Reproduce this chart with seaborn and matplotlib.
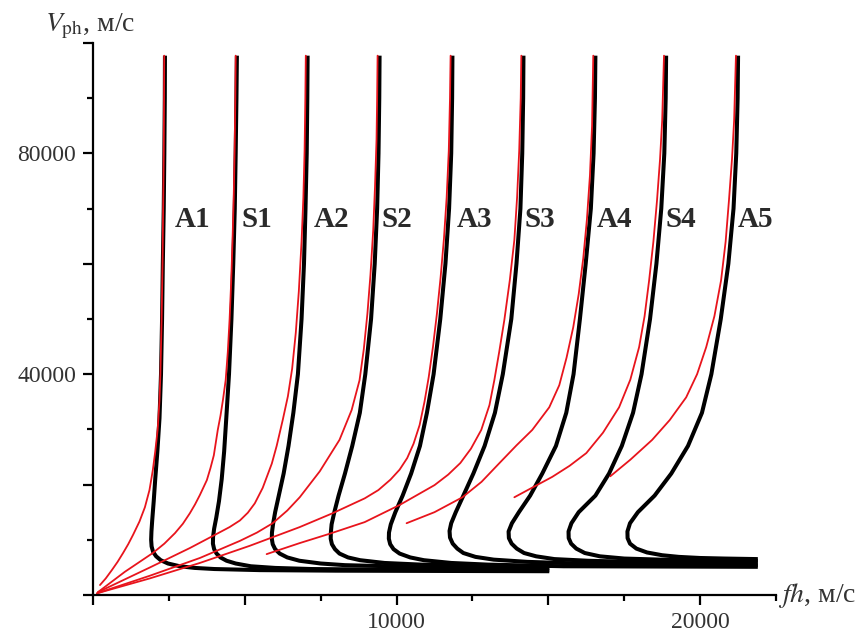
import matplotlib
matplotlib.use("Agg")
import matplotlib.pyplot as plt
from matplotlib.ticker import MultipleLocator
import seaborn as sns

# --- дисперсионные кривые (чёрные): fh [м/с] и Vph [м/с]
A1_fh = [2370, 2365, 2350, 2330, 2300, 2275, 2240, 2190, 2120, 2050, 2000, 1950, 1925, 1915, 1930, 1980, 2080, 2230, 2470, 2860, 3350, 4000, 5500, 8000, 15030]
A1_v = [97700, 90000, 80000, 70000, 60000, 50000, 40000, 32000, 26000, 21000, 17000, 13500, 11500, 10000, 8800, 7800, 7000, 6300, 5700, 5200, 4900, 4700, 4500, 4400, 4300]
S1_fh = [4740, 4725, 4700, 4670, 4620, 4560, 4480, 4390, 4320, 4240, 4150, 4060, 3990, 3955, 3950, 3990, 4070, 4200, 4400, 4700, 5200, 6000, 7200, 9500, 15030]
S1_v = [97700, 90000, 80000, 70000, 60000, 50000, 40000, 32000, 26000, 21000, 17000, 14000, 12000, 10500, 9300, 8300, 7500, 6800, 6200, 5700, 5200, 4900, 4700, 4600, 4500]
A2_fh = [7070, 7060, 7040, 7000, 6950, 6870, 6750, 6600, 6440, 6280, 6120, 6000, 5930, 5895, 5890, 5920, 6000, 6150, 6400, 6800, 7500, 8300, 10500, 15030]
A2_v = [97700, 90000, 80000, 70000, 60000, 50000, 40000, 33000, 27000, 22000, 18000, 15000, 12800, 11300, 10200, 9200, 8300, 7500, 6800, 6200, 5700, 5400, 5100, 4900]
S2_fh = [9440, 9430, 9405, 9360, 9280, 9160, 8970, 8790, 8540, 8300, 8090, 7950, 7860, 7835, 7830, 7870, 7970, 8120, 8400, 8800, 9600, 10800, 12500, 15030]
S2_v = [97700, 90000, 80000, 70000, 60000, 50000, 40000, 33000, 27000, 22000, 18000, 15000, 12800, 11300, 10200, 9200, 8300, 7500, 6800, 6300, 5800, 5500, 5300, 5200]
A3_fh = [11840, 11830, 11800, 11730, 11610, 11440, 11220, 11000, 10770, 10480, 10200, 9960, 9810, 9750, 9745, 9790, 9900, 10100, 10450, 10900, 11800, 13000, 15500, 21900]
A3_v = [97700, 90000, 80000, 70000, 60000, 50000, 40000, 33000, 27000, 22000, 18000, 15000, 12800, 11300, 10200, 9200, 8300, 7500, 6800, 6300, 5800, 5500, 5200, 5100]
S3_fh = [14180, 14170, 14140, 14080, 13950, 13780, 13500, 13240, 12900, 12530, 12200, 11950, 11800, 11745, 11760, 11850, 12000, 12200, 12600, 13200, 14300, 16000, 18500, 21900]
S3_v = [97700, 90000, 80000, 70000, 60000, 50000, 40000, 33000, 27000, 22000, 18000, 15000, 13000, 11600, 10400, 9300, 8400, 7600, 6900, 6400, 6000, 5700, 5500, 5400]
A4_fh = [16550, 16535, 16490, 16400, 16230, 16040, 15830, 15590, 15250, 14800, 14400, 14030, 13800, 13690, 13700, 13790, 13960, 14200, 14600, 15200, 16300, 17800, 19500, 21900]
A4_v = [97700, 90000, 80000, 70000, 60000, 50000, 40000, 33000, 27000, 22000, 18000, 15000, 13000, 11500, 10300, 9300, 8400, 7600, 7000, 6500, 6200, 6000, 5900, 5800]
S4_fh = [18880, 18865, 18820, 18720, 18560, 18350, 18070, 17790, 17420, 17000, 16550, 16000, 15760, 15665, 15670, 15750, 15920, 16200, 16700, 17500, 18700, 20000, 21900]
S4_v = [97700, 90000, 80000, 70000, 60000, 50000, 40000, 33000, 27000, 22000, 18000, 15000, 13000, 11500, 10300, 9300, 8400, 7600, 7000, 6600, 6400, 6300, 6200]
A5_fh = [21250, 21235, 21190, 21100, 20930, 20680, 20370, 20060, 19600, 19050, 18500, 17950, 17690, 17605, 17610, 17690, 17900, 18250, 18750, 19300, 20000, 20800, 21900]
A5_v = [97700, 90000, 80000, 70000, 60000, 50000, 40000, 33000, 27000, 22000, 18000, 15000, 13000, 11500, 10300, 9300, 8400, 7700, 7200, 6900, 6700, 6600, 6500]

# --- приближённые кривые (красные)
A1r_fh = [230, 420, 620, 810, 990, 1160, 1320, 1530, 1710, 1860, 1970, 2050, 2130, 2190, 2220, 2260, 2290, 2310, 2330, 2340, 2345]
A1r_v = [1800, 3000, 4500, 6000, 7600, 9200, 10900, 13300, 15900, 19000, 22600, 26000, 30000, 35300, 40000, 50000, 60000, 70000, 80000, 90000, 97700]
S1r_fh = [160, 1050, 1970, 2350, 2700, 2960, 3190, 3360, 3520, 3750, 3870, 3980, 4110, 4200, 4280, 4370, 4440, 4500, 4550, 4595, 4635, 4665, 4688, 4700]
S1r_v = [500, 4200, 7600, 9300, 11200, 12900, 14800, 16400, 18100, 20800, 23000, 25300, 29900, 32500, 35300, 38900, 44000, 50000, 56500, 64000, 72000, 80500, 90000, 97700]
A2r_fh = [160, 1880, 3190, 3950, 4500, 4840, 5100, 5330, 5590, 5890, 6050, 6250, 6420, 6560, 6680, 6780, 6870, 6930, 6970, 6995, 7010]
A2r_v = [500, 5000, 8500, 10700, 12300, 13500, 14900, 16600, 19400, 23800, 27000, 31700, 36000, 41000, 47500, 55000, 64000, 72000, 80500, 90000, 97700]
S2r_fh = [130, 1880, 3520, 4840, 5400, 5920, 6400, 6810, 7470, 8120, 8520, 8780, 8920, 9040, 9140, 9230, 9290, 9340, 9360, 9375]
S2r_v = [300, 3500, 6700, 9800, 11300, 13000, 15300, 17700, 22400, 28100, 33500, 38900, 44500, 51000, 58000, 66000, 74000, 82500, 90000, 97700]
A3r_fh = [130, 1870, 3520, 5160, 6810, 7890, 8950, 9400, 9800, 10100, 10350, 10560, 10760, 10920, 11060, 11200, 11330, 11450, 11560, 11650, 11720, 11760, 11780]
A3r_v = [300, 3000, 5800, 8900, 12300, 14800, 17500, 19000, 20900, 22700, 24800, 27400, 30800, 35000, 39500, 45000, 51000, 57500, 64500, 72000, 80500, 90000, 97700]
S3r_fh = [5720, 6810, 7800, 8950, 10100, 11250, 11700, 12100, 12450, 12790, 13060, 13220, 13380, 13550, 13730, 13880, 13970, 14040, 14090, 14110]
S3r_v = [7400, 9400, 11100, 13200, 16300, 19900, 21800, 23900, 26500, 29900, 34400, 38900, 44000, 49800, 57000, 64300, 72000, 80500, 90000, 97700]
A4r_fh = [10330, 11250, 12170, 12800, 13390, 13950, 14470, 15030, 15360, 15600, 15820, 16000, 16150, 16270, 16370, 16440, 16480]
A4r_v = [13000, 15000, 17700, 20500, 23900, 27100, 29900, 34000, 38000, 43000, 48500, 54500, 61000, 68000, 76000, 85000, 97700]
S4r_fh = [13880, 15130, 15700, 16250, 16800, 17330, 17700, 17990, 18170, 18320, 18460, 18580, 18680, 18750, 18810]
S4r_v = [17700, 21400, 23400, 25700, 29400, 34000, 39000, 44900, 50500, 57000, 64000, 71500, 79000, 86000, 97700]
A5r_fh = [17040, 17700, 18420, 19000, 19540, 19900, 20200, 20470, 20690, 20840, 20950, 21050, 21120, 21180]
A5r_v = [21500, 24500, 28100, 31700, 35800, 40000, 44900, 50500, 57000, 64000, 71500, 79000, 86000, 97700]

modes = ["A1", "S1", "A2", "S2", "A3", "S3", "A4", "S4", "A5"]
label_fh = [3290, 5390, 7860, 10000, 12560, 14730, 17170, 19370, 21810]
label_v = 68000

black = [(A1_fh, A1_v), (S1_fh, S1_v), (A2_fh, A2_v), (S2_fh, S2_v), (A3_fh, A3_v),
         (S3_fh, S3_v), (A4_fh, A4_v), (S4_fh, S4_v), (A5_fh, A5_v)]
red = [(A1r_fh, A1r_v), (S1r_fh, S1r_v), (A2r_fh, A2r_v), (S2r_fh, S2r_v), (A3r_fh, A3r_v),
       (S3r_fh, S3r_v), (A4r_fh, A4r_v), (S4r_fh, S4r_v), (A5r_fh, A5r_v)]

sns.set_theme(style="ticks")
plt.rcParams["font.family"] = ["Liberation Serif", "DejaVu Serif"]
plt.rcParams["mathtext.fontset"] = "stix"

fig = plt.figure(figsize=(8.66, 6.31), dpi=100)
ax = fig.add_axes([0.1074, 0.0571, 0.7887, 0.8748])

for fh, v in black:
    sns.lineplot(x=fh, y=v, sort=False, estimator=None, color="black", lw=2.9,
                 ax=ax, solid_capstyle="butt", solid_joinstyle="round")
for fh, v in red:
    sns.lineplot(x=fh, y=v, sort=False, estimator=None, color="#e8141c", lw=1.3,
                 ax=ax, solid_joinstyle="round")

for name, xm in zip(modes, label_fh):
    ax.text(xm, label_v, name, ha="center", va="center", fontsize=21,
            fontweight="bold", color="#2a2a2a")

ax.set_xlim(0, 22500)
ax.set_ylim(0, 100000)
sns.despine(ax=ax)
for s in ["left", "bottom"]:
    ax.spines[s].set_linewidth(1.6)
    ax.spines[s].set_color("black")

ax.xaxis.set_major_locator(MultipleLocator(5000))
ax.xaxis.set_minor_locator(MultipleLocator(2500))
ax.yaxis.set_major_locator(MultipleLocator(20000))
ax.yaxis.set_minor_locator(MultipleLocator(10000))
ax.set_xticklabels(["" if t not in (10000, 20000) else f"{int(t)}" for t in ax.get_xticks()])
ax.set_yticklabels(["" if t not in (40000, 80000) else f"{int(t)}" for t in ax.get_yticks()])
ax.tick_params(which="major", length=7, width=1.6, color="black", labelsize=17,
               labelcolor="#333333", pad=5)
ax.tick_params(which="minor", length=4, width=1.6, color="black")

ax.set_xlabel("")
ax.set_ylabel("")
fig.text(0.898, 0.057, r"$fh$, м/с", fontsize=20, color="#333333", va="center", ha="left")
fig.text(0.052, 0.958, r"$V_{\mathrm{ph}}$, м/с", fontsize=20, color="#333333", va="center", ha="left")

fig.savefig("out.png", dpi=100)
